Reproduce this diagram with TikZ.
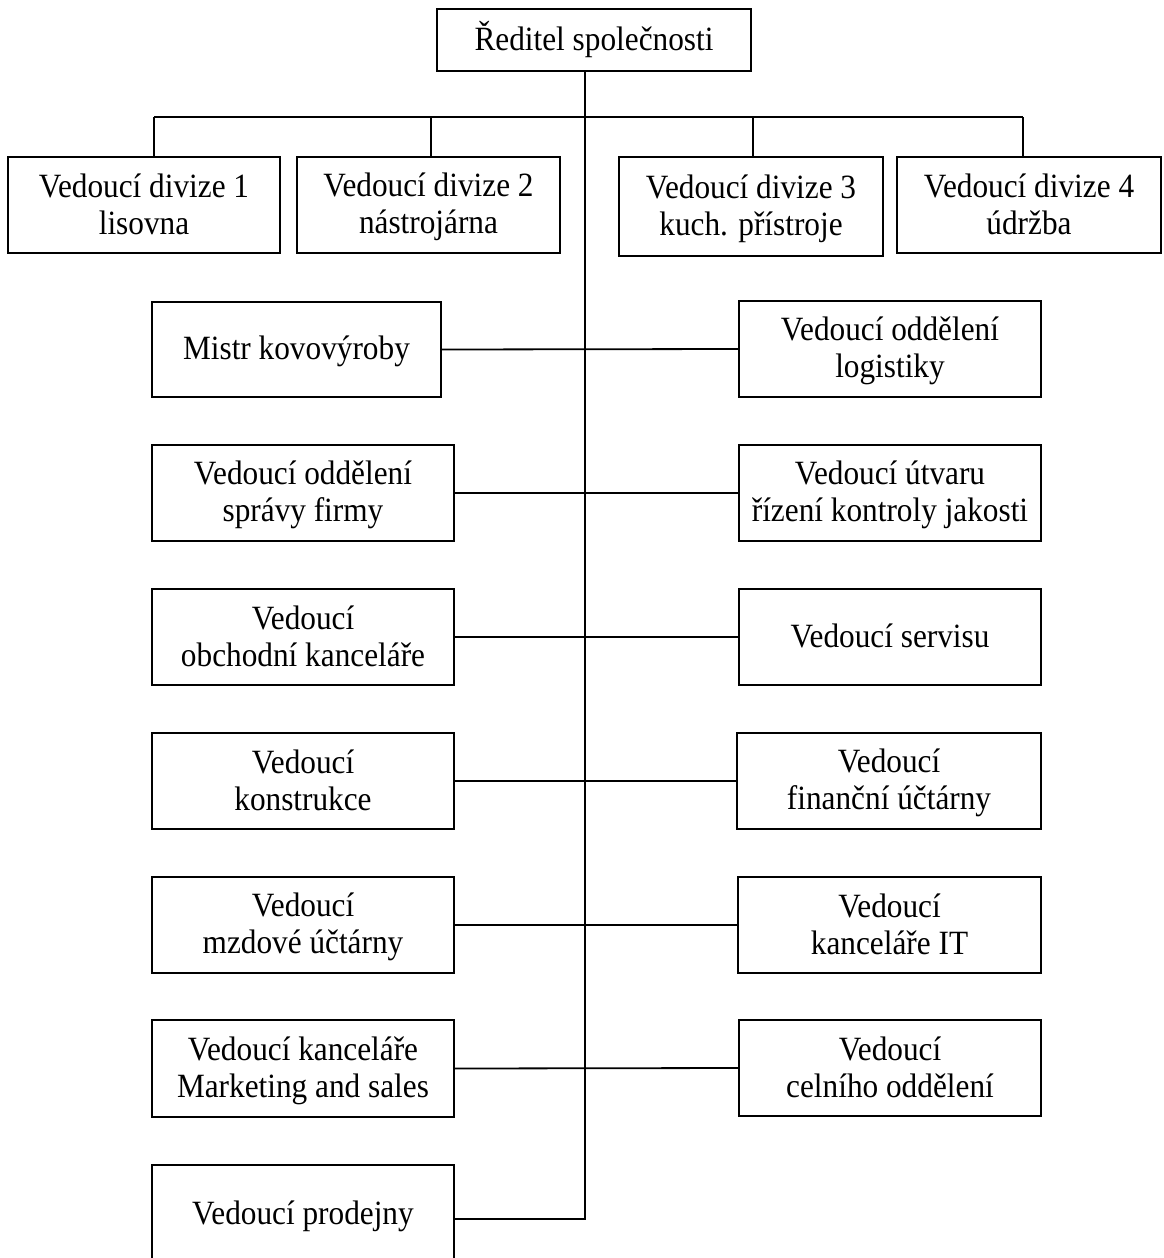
\documentclass[tikz,border=0pt]{standalone}
\usepackage{fontspec}
\setmainfont{Liberation Serif}[FakeStretch=0.92]
% uniform line strut so baselines line up from box to box
\newcommand{\lnst}{\rule[-7pt]{0pt}{35pt}}
\begin{document}
\begin{tikzpicture}[x=1pt,y=-1pt,
  box/.style={draw, line width=1.8pt, inner sep=0pt},
  lbl/.style={align=center, font=\fontsize{34}{37}\selectfont},
  link/.style={line width=1.8pt}]
\useasboundingbox (0,0) rectangle (1164,1258);
% box helper: corners given in picture units
\newcommand{\orgbox}[6]{%
  \draw[box] (#2,#3) rectangle (#4,#5);
  \node[lbl] (#1) at ({(#2+#4)/2},{(#3+#5)/2}) {#6};
  \coordinate (#1-w) at (#2,{(#3+#5)/2});
  \coordinate (#1-e) at (#4,{(#3+#5)/2});
  \coordinate (#1-n) at ({(#2+#4)/2},#3);
  \coordinate (#1-s) at ({(#2+#4)/2},#5);
}
\orgbox{ceo}{437}{9}{751}{71}{\lnst Ředitel společnosti}
\orgbox{d1}{8}{157}{280}{253}{\lnst Vedoucí divize 1\\\lnst lisovna}
\orgbox{d2}{297}{157}{560}{253}{\lnst Vedoucí divize 2\\\lnst nástrojárna}
\orgbox{d3}{619}{157}{883}{256}{\lnst Vedoucí divize 3\\\lnst kuch. přístroje}
\orgbox{d4}{897}{157}{1161}{253}{\lnst Vedoucí divize 4\\\lnst údržba}

\orgbox{l1}{152}{302}{441}{397}{\lnst Mistr kovovýroby}
\orgbox{l2}{152}{445}{454}{541}{\lnst Vedoucí oddělení\\\lnst správy firmy}
\orgbox{l3}{152}{589}{454}{685}{\lnst Vedoucí\\\lnst obchodní kanceláře}
\orgbox{l4}{152}{733}{454}{829}{\lnst Vedoucí\\\lnst konstrukce}
\orgbox{l5}{152}{877}{454}{973}{\lnst Vedoucí\\\lnst mzdové účtárny}
\orgbox{l6}{152}{1020}{454}{1117}{\lnst Vedoucí kanceláře\\\lnst Marketing and sales}
\orgbox{l7}{152}{1165}{454}{1264}{\lnst Vedoucí prodejny}

\orgbox{r1}{739}{301}{1041}{397}{\lnst Vedoucí oddělení\\\lnst logistiky}
\orgbox{r2}{739}{445}{1041}{541}{\lnst Vedoucí útvaru\\\lnst řízení kontroly jakosti}
\orgbox{r3}{739}{589}{1041}{685}{\lnst Vedoucí servisu}
\orgbox{r4}{737}{733}{1041}{829}{\lnst Vedoucí\\\lnst finanční účtárny}
\orgbox{r5}{738}{877}{1041}{973}{\lnst Vedoucí\\\lnst kanceláře IT}
\orgbox{r6}{739}{1020}{1041}{1116}{\lnst Vedoucí\\\lnst celního oddělení}

% trunk and division bus
\coordinate (trunk) at (585,71);
\coordinate (foot) at (585,1219);
\draw[link] (trunk) -- (foot) -- (foot -| l7-e);
\draw[link] (154,117) coordinate (busL) -- (1023,117) coordinate (busR);
\draw[link] (busL) -- (busL |- d1-n);
\draw[link] (431,117) coordinate (b2) -- (b2 |- d2-n);
\draw[link] (753,117) coordinate (b3) -- (b3 |- d3-n);
\draw[link] (busR) -- (busR |- d4-n);
% staff links
\foreach \i in {1,...,6} {
  \draw[link] (l\i-e) -- (r\i-w);
}
\end{tikzpicture}
\end{document}
